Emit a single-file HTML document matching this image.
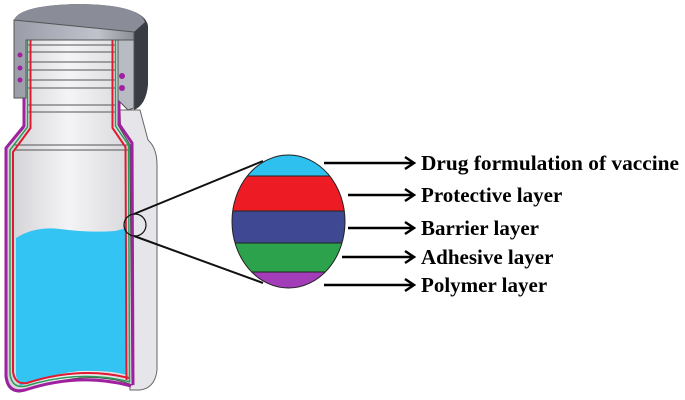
<!DOCTYPE html><html><head><style>body{margin:0;background:#fff}svg{display:block}</style></head><body>
<svg width="685" height="400" viewBox="0 0 685 400" xmlns="http://www.w3.org/2000/svg">
<defs>
<linearGradient id="g" x1="0" x2="1"><stop offset="0" stop-color="#d0d0d4"/><stop offset=".5" stop-color="#f4f4f6"/><stop offset="1" stop-color="#d8d8dc"/></linearGradient>
<linearGradient id="c" x1="0" x2="1"><stop offset="0" stop-color="#9a9ca8"/><stop offset=".7" stop-color="#c0c2cc"/><stop offset="1" stop-color="#8a8c96"/></linearGradient>
<clipPath id="e"><ellipse cx="288.5" cy="221.5" rx="56.5" ry="66.5"/></clipPath>
</defs>
<!-- outer shell right -->
<path d="M120 110 L140 110 L148 140 Q157 148 157 165 L157 370 Q155 388 140 390 L130 390 Z" fill="#e6e6ea" stroke="#666" stroke-width="1"/>
<!-- bottle body cut -->
<path d="M24 35 L118 35 L118 125 L130 145 L132 385 Q110 376 80 378 Q45 382 20 392 Q6 392 5 375 L5 150 L24 128 Z" fill="url(#g)" stroke="#444" stroke-width="1"/>
<!-- threads -->
<g stroke="#555" stroke-width="1" fill="none">
<path d="M28 45 H116 M28 52 H116 M28 62 H116 M28 70 H116 M28 80 H116 M28 88 H116 M28 105 H116 M28 112 H116 M14 145 H128 M14 150 H128"/>
</g>
<!-- liquid -->
<path d="M16 238 Q35 226 60 229 Q90 233 115 231 L127 228 L127 375 Q110 370 80 371 Q50 374 20 386 L16 376 Z" fill="#33c4f3"/>
<!-- layer lines -->
<path d="M24 38 L24 126 L6 148 L6 376 Q8 394 25 390 Q80 372 131 386" fill="none" stroke="#a020a0" stroke-width="3"/>
<path d="M27.5 38 L27.5 127 L10 150 L10 374 Q12 389 26 386 Q80 369 130 382" fill="none" stroke="#2a9a5a" stroke-width="1.5"/>
<path d="M30.5 38 L30.5 128 L13 152 L13 372 Q15 385 27 383 Q80 366 129 378" fill="none" stroke="#e01830" stroke-width="2"/>
<path d="M119 38 L119 124 L132 143 L133 385" fill="none" stroke="#a020a0" stroke-width="3"/>
<path d="M115.5 38 L115.5 126 L128.5 145 L129.5 382" fill="none" stroke="#2a9a5a" stroke-width="1.5"/>
<path d="M112.5 38 L112.5 128 L125.5 147 L126.5 380" fill="none" stroke="#e01830" stroke-width="2"/>
<!-- cap -->
<path d="M14 20 Q20 5 80 4 Q145 5 148 26 L148 85 Q146 105 134 110 L134 28 Z" fill="#3a3c44"/>
<path d="M14 20 Q20 5 80 4 Q140 5 145 22 L134 32 L14 32 Z" fill="#8a8c98"/>
<path d="M14 20 L134 32 L134 40 L26 40 L26 98 L14 98 Z" fill="url(#c)" stroke="#555" stroke-width="1"/>
<path d="M118 40 L134 40 L134 108 L128 110 L118 100 Z" fill="#b8bac4" stroke="#555" stroke-width="1"/>
<g fill="#a020a0"><circle cx="122" cy="76" r="3"/><circle cx="122" cy="88" r="3"/><circle cx="20" cy="55" r="2.5"/><circle cx="20" cy="68" r="2.5"/><circle cx="20" cy="80" r="2.5"/></g>
<circle cx="135" cy="225" r="11" fill="none" stroke="#111" stroke-width="1.2"/>
<line x1="134" y1="214" x2="263" y2="161" stroke="#111" stroke-width="2"/>
<line x1="134" y1="236" x2="263" y2="283" stroke="#111" stroke-width="2"/>
<g clip-path="url(#e)">
<rect x="230" y="150" width="120" height="26" fill="#2ec0ee"/>
<rect x="230" y="176" width="120" height="35" fill="#ed1c24"/>
<rect x="230" y="211" width="120" height="32" fill="#3f4893"/>
<rect x="230" y="243" width="120" height="29" fill="#2ca24c"/>
<rect x="230" y="272" width="120" height="20" fill="#a23cb8"/>
<g stroke="#222" stroke-width="1"><line x1="230" x2="350" y1="176" y2="176"/><line x1="230" x2="350" y1="211" y2="211"/><line x1="230" x2="350" y1="243" y2="243"/><line x1="230" x2="350" y1="272" y2="272"/></g>
</g>
<ellipse cx="288.5" cy="221.5" rx="56.5" ry="66.5" fill="none" stroke="#222" stroke-width="1"/>
<g stroke="#000" stroke-width="2.5" fill="none">
<path d="M324 163 H413 M405 157 L414 163 L405 169"/>
<path d="M348 195 H413 M405 189 L414 195 L405 201"/>
<path d="M348 228 H413 M405 222 L414 228 L405 234"/>
<path d="M342 257 H413 M405 251 L414 257 L405 263"/>
<path d="M324 285 H413 M405 279 L414 285 L405 291"/>
</g>
<g font-family="Liberation Serif, serif" font-weight="bold" font-size="21" fill="#000">
<text x="421" y="170" textLength="258" lengthAdjust="spacingAndGlyphs">Drug formulation of vaccine</text>
<text x="421" y="202">Protective layer</text>
<text x="421" y="235">Barrier layer</text>
<text x="421" y="264">Adhesive layer</text>
<text x="421" y="292">Polymer layer</text>
</g>
</svg></body></html>
